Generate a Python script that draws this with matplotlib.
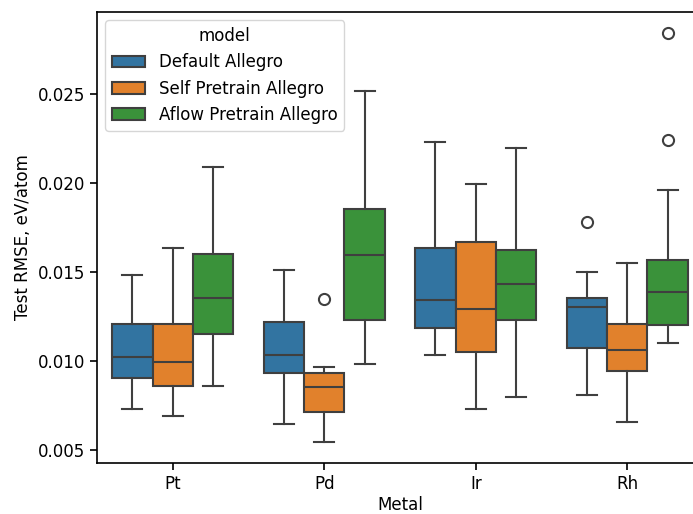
import matplotlib
matplotlib.use("Agg")
import matplotlib.pyplot as plt
from matplotlib.patches import Patch

plt.rcParams["font.size"] = 12

metals = ["Pt", "Pd", "Ir", "Rh"]
models = ["Default Allegro", "Self Pretrain Allegro", "Aflow Pretrain Allegro"]
colors = ["#3274a1", "#e1812c", "#3a923a"]

# per model: lists over metals
whislo = {
    "Default Allegro":        [0.00732, 0.00645, 0.01033, 0.00807],
    "Self Pretrain Allegro":  [0.00691, 0.00543, 0.00732, 0.00657],
    "Aflow Pretrain Allegro": [0.00862, 0.00985, 0.00800, 0.01103],
}
q1 = {
    "Default Allegro":        [0.00907, 0.00931, 0.01184, 0.01075],
    "Self Pretrain Allegro":  [0.00862, 0.00712, 0.01050, 0.00946],
    "Aflow Pretrain Allegro": [0.01152, 0.01229, 0.01233, 0.01201],
}
med = {
    "Default Allegro":        [0.01025, 0.01034, 0.01342, 0.01303],
    "Self Pretrain Allegro":  [0.00993, 0.00854, 0.01293, 0.01061],
    "Aflow Pretrain Allegro": [0.01357, 0.01596, 0.01432, 0.01391],
}
q3 = {
    "Default Allegro":        [0.01207, 0.01218, 0.01638, 0.01357],
    "Self Pretrain Allegro":  [0.01210, 0.00935, 0.01668, 0.01210],
    "Aflow Pretrain Allegro": [0.01600, 0.01857, 0.01623, 0.01568],
}
whishi = {
    "Default Allegro":        [0.01486, 0.01512, 0.02234, 0.01500],
    "Self Pretrain Allegro":  [0.01636, 0.00965, 0.01994, 0.01553],
    "Aflow Pretrain Allegro": [0.02092, 0.02521, 0.02200, 0.01961],
}
fliers = {
    "Default Allegro":        [[], [], [], [0.0178]],
    "Self Pretrain Allegro":  [[], [0.01349], [], []],
    "Aflow Pretrain Allegro": [[], [], [], [0.02843, 0.02242]],
}

fig = plt.figure(figsize=(6.93, 5.14), dpi=100)
ax = fig.add_axes([97/693, 51/514, (703-97)/693, 451/514])

lc = "#3f3f3f"
lw = 1.5
bw = 0.8 / 3
for j, m in enumerate(models):
    stats = []
    for i in range(len(metals)):
        stats.append(dict(whislo=whislo[m][i], q1=q1[m][i], med=med[m][i],
                          q3=q3[m][i], whishi=whishi[m][i], fliers=fliers[m][i]))
    pos = [i + (j - 1) * bw for i in range(len(metals))]
    ax.bxp(stats, positions=pos, widths=bw, patch_artist=True, manage_ticks=False,
           boxprops=dict(facecolor=colors[j], edgecolor=lc, linewidth=lw),
           medianprops=dict(color=lc, linewidth=lw),
           whiskerprops=dict(color=lc, linewidth=lw),
           capprops=dict(color=lc, linewidth=lw),
           capwidths=bw * 0.5,
           flierprops=dict(marker="o", markerfacecolor="none", markeredgecolor=lc,
                           markersize=8, markeredgewidth=lw))

ax.set_xticks(range(len(metals)))
ax.set_xticklabels(metals)
ax.set_xlim(-0.5, 3.5)
ax.set_ylim(0.00427, 0.02963)
ax.set_yticks([0.005, 0.010, 0.015, 0.020, 0.025])
ax.set_yticklabels(["0.005", "0.010", "0.015", "0.020", "0.025"])
ax.tick_params(width=1.2, length=5)
for s in ax.spines.values():
    s.set_linewidth(1.2)
ax.set_xlabel("Metal", labelpad=2)
ax.set_ylabel("Test RMSE, eV/atom")

handles = [Patch(facecolor=c, edgecolor=lc, linewidth=lw, label=m) for c, m in zip(colors, models)]
ax.legend(handles=handles, title="model", loc="upper left", fontsize=12, title_fontsize=12)

fig.savefig("out.png", dpi=100)
